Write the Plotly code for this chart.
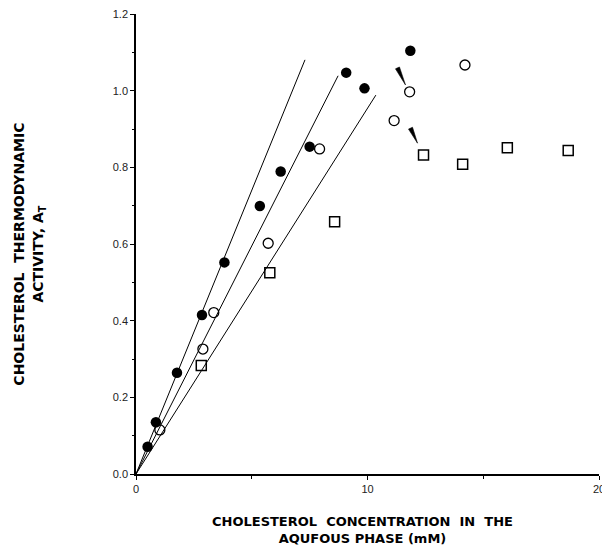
import numpy as np
import plotly.graph_objects as go

# Cholesterol thermodynamic activity vs aqueous-phase concentration
filled_x = [0.50, 0.86, 1.77, 2.85, 3.82, 5.35, 6.25, 7.50, 9.08, 9.87, 11.85]
filled_y = [0.071, 0.135, 0.264, 0.415, 0.552, 0.699, 0.789, 0.854, 1.047, 1.006, 1.104]

open_x = [1.03, 2.89, 3.36, 5.71, 7.93, 11.15, 11.82, 14.21]
open_y = [0.115, 0.326, 0.421, 0.602, 0.848, 0.922, 0.997, 1.067]

square_x = [2.82, 5.78, 8.58, 12.42, 14.11, 16.04, 18.67]
square_y = [0.283, 0.525, 0.658, 0.832, 0.808, 0.851, 0.844]

# fitted lines through the origin: slope and last x of each
fit_slopes = [0.148, 0.119, 0.0954]
fit_end_x = [7.30, 8.73, 10.36]

# arrow tips (data coordinates)
arrow_tip_x = [11.64, 12.16]
arrow_tip_y = [1.015, 0.863]

x_ticks = [0, 10, 20]
y_ticks = [0.0, 0.2, 0.4, 0.6, 0.8, 1.0, 1.2]

X_RANGE = [0, 20]
Y_RANGE = [0, 1.2]
MARGIN = dict(l=136, r=3, t=14, b=76)
WIDTH, HEIGHT = 602, 550

fig = go.Figure()

for s, xe in zip(fit_slopes, fit_end_x):
    xs = np.array([0.0, xe])
    fig.add_trace(go.Scatter(x=xs, y=s * xs, mode="lines",
                             line=dict(color="black", width=1),
                             showlegend=False, hoverinfo="skip"))

fig.add_trace(go.Scatter(x=filled_x, y=filled_y, mode="markers",
                         marker=dict(symbol="circle", size=10.5, color="black",
                                     line=dict(width=0)),
                         showlegend=False))
fig.add_trace(go.Scatter(x=open_x, y=open_y, mode="markers",
                         marker=dict(symbol="circle-open", size=10, color="black",
                                     line=dict(width=1.3)),
                         showlegend=False))
fig.add_trace(go.Scatter(x=square_x, y=square_y, mode="markers",
                         marker=dict(symbol="square-open", size=10, color="black",
                                     line=dict(width=1.5)),
                         showlegend=False))

# tapered arrow wedges: tail offset and half-width in pixels
px_per_x = (WIDTH - MARGIN["l"] - MARGIN["r"]) / (X_RANGE[1] - X_RANGE[0])
px_per_y = (HEIGHT - MARGIN["t"] - MARGIN["b"]) / (Y_RANGE[1] - Y_RANGE[0])
arrow_offsets = [(-8, -17), (-7, -15)]
half_w = 2.2
for tx, ty, (ax, ay) in zip(arrow_tip_x, arrow_tip_y, arrow_offsets):
    length = np.hypot(ax, ay)
    nx, ny = -ay / length * half_w, ax / length * half_w
    pts = [(0, 0), (ax + nx, ay + ny), (ax - nx, ay - ny)]
    path = "M " + " L ".join(
        f"{tx + px / px_per_x},{ty - py / px_per_y}" for px, py in pts) + " Z"
    fig.add_shape(type="path", path=path, xref="x", yref="y",
                  fillcolor="black", line=dict(color="black", width=0.6))

nb = "\u00a0"
fig.add_annotation(
    x=0.49, y=-0.122, xref="paper", yref="paper", showarrow=False,
    text=f"<b>CHOLESTEROL{nb}{nb}CONCENTRATION{nb}{nb}IN{nb}{nb}THE<br>"
         f"AQUFOUS{nb}PHASE{nb}(mM)</b>",
    font=dict(family="DejaVu Sans", size=13, color="black"),
    xanchor="center", yanchor="middle", align="center")
fig.add_annotation(
    x=-0.230, y=0.478, xref="paper", yref="paper", showarrow=False,
    text=f"<b>CHOLESTEROL{nb}{nb}THERMODYNAMIC<br>"
         f"ACTIVITY,{nb}A<sub>T</sub></b>",
    font=dict(family="DejaVu Sans", size=14, color="black"),
    textangle=-90, xanchor="center", yanchor="middle", align="center")

tick_font = dict(family="Liberation Sans, Arial", size=11, color="#222")
fig.update_xaxes(range=X_RANGE, tickvals=x_ticks, ticktext=[str(v) for v in x_ticks],
                 ticks="outside", ticklen=4, tickwidth=1, tickcolor="black",
                 showline=True, linecolor="black", linewidth=1.5,
                 showgrid=False, zeroline=False, tickfont=tick_font,
                 ticklabeloverflow="allow", automargin=False,
                 minor=dict(tickvals=[5, 15], ticks="outside", ticklen=3,
                            tickcolor="black"))
fig.update_yaxes(range=Y_RANGE, tickvals=y_ticks,
                 ticktext=[f"{v:.1f}" for v in y_ticks],
                 ticks="outside", ticklen=4, tickwidth=1, tickcolor="black",
                 showline=True, linecolor="black", linewidth=1.5,
                 showgrid=False, zeroline=False, tickfont=tick_font,
                 ticklabeloverflow="allow", automargin=False,
                 minor=dict(dtick=0.1, ticks="outside", ticklen=2,
                            tickcolor="black"))

fig.update_layout(width=WIDTH, height=HEIGHT, margin=MARGIN,
                  plot_bgcolor="white", paper_bgcolor="white",
                  showlegend=False)

fig.write_html("out.html")
